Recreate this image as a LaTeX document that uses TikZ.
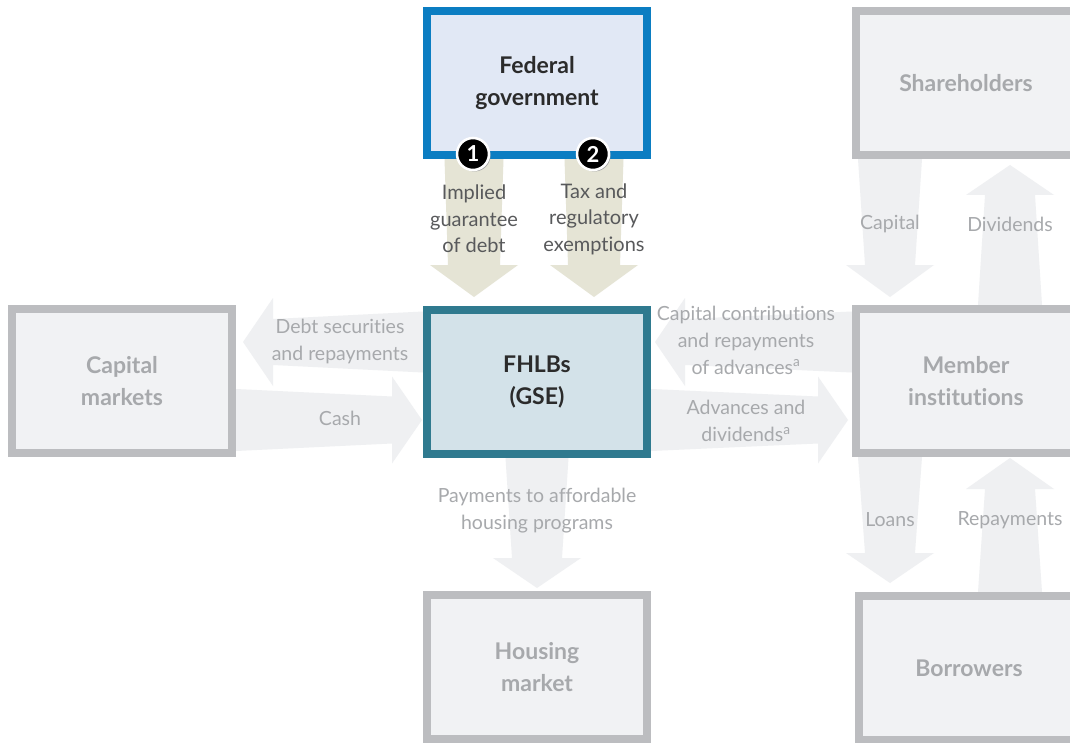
\documentclass[tikz,border=0pt]{standalone}
\usepackage{fontspec}
\setmainfont{Lato}[Ligatures={NoCommon}]
\usetikzlibrary{calc,backgrounds,shadows}
\definecolor{fedb}{HTML}{0B7DC2}
\definecolor{fedf}{HTML}{E1E8F5}
\definecolor{fhb}{HTML}{2F7A8F}
\definecolor{fhf}{HTML}{D3E2E9}
\definecolor{gbd}{HTML}{BCBDC0}
\definecolor{gfill}{HTML}{F1F2F4}
\definecolor{garrow}{HTML}{EFF0F2}
\definecolor{beige}{HTML}{E5E4D5}
\definecolor{tgray}{HTML}{A7A9AC}
\definecolor{tdark}{HTML}{2B2B2B}
\definecolor{tmid}{HTML}{58595B}
\newcommand\harrow[7]{\fill[#1] let \p1=(#2), \p2=(#3) in
 ({\x1},{\y2+#4}) -- ({\x2-(#7)},{\y2+#5}) -- ({\x2-(#7)},{\y2+#6}) -- (\p2) -- ({\x2-(#7)},{\y2-#6}) -- ({\x2-(#7)},{\y2-#5}) -- ({\x1},{\y2-#4}) -- cycle;}
\newcommand\varrow[7]{\fill[#1] let \p1=(#2), \p2=(#3) in
 ({\x2+#4},{\y1}) -- ({\x2+#5},{\y2-(#7)}) -- ({\x2+#6},{\y2-(#7)}) -- (\p2) -- ({\x2-#6},{\y2-(#7)}) -- ({\x2-#5},{\y2-(#7)}) -- ({\x2-#4},{\y1}) -- cycle;}
\begin{document}
\begin{tikzpicture}[x=1pt,y=-1pt,
  box/.style={draw, line width=8pt, minimum width=220pt, minimum height=144pt, inner sep=0pt, align=center,
    font=\bfseries\fontsize{23pt}{32pt}\selectfont},
  graybox/.style={box, draw=gbd, fill=gfill, text=tgray},
  glabel/.style={align=center, text=tgray, font=\fontsize{19.5pt}{27pt}\selectfont},
  flabel/.style={align=center, text=tmid, font=\fontsize{20pt}{26.5pt}\selectfont},
  numc/.style={circle, fill=black, draw=white, line width=2.5pt, minimum size=32pt, inner sep=0pt,
    text=white, font=\bfseries\fontsize{22pt}{22pt}\selectfont,
    drop shadow={shadow xshift=1.5pt, shadow yshift=-1.5pt, fill=black!35, opacity=1}}]
\useasboundingbox (0,0) rectangle (1070,743);
\clip (0,0) rectangle (1070,743);

% boxes
\node[box, draw=fedb, fill=fedf, text=tdark] (fed) at (537,83) {Federal\\government};
\node[box, draw=fhb, fill=fhf, text=tdark] (fhlb) at (537,382) {FHLBs\\(GSE)};
\node[graybox] (cm) at (122,381) {Capital\\markets};
\node[graybox] (share) at (966,83) {Shareholders};
\node[graybox] (member) at (966,381) {Member\\institutions};
\node[graybox] (housing) at (537,667) {Housing\\market};
\node[graybox] (borrow) at (969,668) {Borrowers};

% arrow tips
\coordinate (t1) at (474,297);
\coordinate (t2) at (594,297);
\coordinate (tdebt) at (243,342);
\coordinate (tcash) at (422,420);
\coordinate (tcontr) at (655,342);
\coordinate (tadv) at (848,420);
\coordinate (tcap) at (890,297);
\coordinate (tdiv) at (1010,165);
\coordinate (tloan) at (890,583);
\coordinate (trep) at (1010,458);
\coordinate (tpay) at (537,588);

\begin{pgfonlayer}{background}
\fill[white] (0,0) rectangle (1070,743);
\varrow{beige}{t1 |- fed.south}{t1}{29.5}{26}{44}{-32}
\varrow{beige}{t2 |- fed.south}{t2}{29.5}{26}{44}{-32}
\harrow{garrow}{fhlb.west |- tdebt}{tdebt}{30.5}{23}{44}{-30}
\harrow{garrow}{cm.east |- tcash}{tcash}{31}{23.5}{43.5}{30}
\harrow{garrow}{member.west |- tcontr}{tcontr}{30.5}{23}{44}{-30}
\harrow{garrow}{fhlb.east |- tadv}{tadv}{31}{23.5}{43.5}{30}
\varrow{garrow}{tcap |- share.south}{tcap}{32}{25}{44}{-32}
\varrow{garrow}{tdiv |- member.north}{tdiv}{32}{25}{44}{30}
\varrow{garrow}{tloan |- member.south}{tloan}{32}{25}{44}{-30}
\varrow{garrow}{trep |- borrow.north}{trep}{32}{25}{44}{31}
\varrow{garrow}{tpay |- fhlb.south}{tpay}{31.5}{25}{44}{-30}
\end{pgfonlayer}

% numbered markers
\node[numc] (n1) at (473,154) {1};
\node[numc] (n2) at (593,154) {2};

% labels
\node[flabel] (l1) at (474,219) {Implied\\guarantee\\of debt};
\node[flabel] (l2) at (594,219) {Tax and\\regulatory\\exemptions};
\node[glabel] (ldebt) at (340,341) {Debt securities\\and repayments};
\node[glabel] (lcash) at (340,418) {Cash};
\node[glabel] (lcontr) at (746,340) {Capital contributions\\and repayments\\of advances\textsuperscript{a}};
\node[glabel] (ladv) at (746,421) {Advances and\\dividends\textsuperscript{a}};
\node[glabel] (lcap) at (890,224) {Capital};
\node[glabel] (ldiv) at (1010,224) {Dividends};
\node[glabel] (lloan) at (890,520) {Loans};
\node[glabel] (lrep) at (1010,520) {Repayments};
\node[glabel] (lpay) at (537,511) {Payments to affordable\\housing programs};
\end{tikzpicture}
\end{document}
